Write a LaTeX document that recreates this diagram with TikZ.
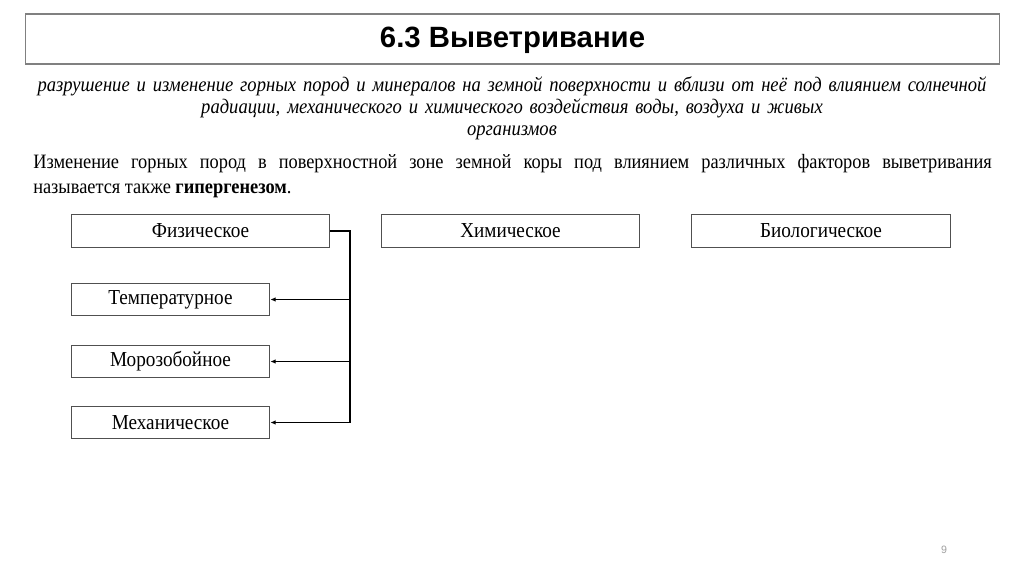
\documentclass[tikz,border=0pt]{standalone}
\usepackage{fontspec}
\setmainfont{Liberation Serif}[FakeStretch=0.9]
\newfontfamily\titlefont{Liberation Sans}
\usetikzlibrary{arrows.meta}
\definecolor{boxline}{HTML}{505050}
\definecolor{pagegray}{HTML}{A0A0A0}
\tikzset{
  catbox/.style={draw=boxline, line width=0.8pt, minimum width=194pt, minimum height=24.5pt, inner sep=0pt, font=\fontsize{16}{18}\selectfont},
  subbox/.style={draw=boxline, line width=0.8pt, minimum width=149pt, minimum height=24.5pt, inner sep=0pt, font=\fontsize{16}{18}\selectfont},
  conn/.style={line width=0.8pt, black},
  arr/.style={conn, -{Latex[length=4pt,width=3.5pt]}}
}
\begin{document}
\begin{tikzpicture}[x=0.75pt,y=-0.75pt]
\useasboundingbox[fill=white] (0,0) rectangle (1024,574);
% title
\node[draw=pagegray!80!black, line width=0.8pt, minimum width=731pt, minimum height=37.5pt, inner sep=0pt] (title) at (512.5,39) {};
\node[font=\titlefont\bfseries\fontsize{22}{24}\selectfont] (titletext) at (512.5,40) {6.3 Выветривание};
% definition
\node[font=\itshape\fontsize{15.5}{16.5}\selectfont, align=center, text width=760pt, inner sep=0pt] (def) at (512,108)
 {разрушение и изменение горных пород и минералов на земной поверхности и вблизи от неё под влиянием солнечной\\
 радиации, механического и химического воздействия воды, воздуха и живых\\
 организмов};
% paragraph
\node[font=\fontsize{15.3}{19}\selectfont, align=justify, text width=719pt, inner sep=0pt, anchor=north west] (para) at (33,154)
 {Изменение горных пород в поверхностной зоне земной коры под влиянием различных факторов выветривания\linebreak называется также \textbf{гипергенезом}.};
% category boxes
\node[catbox] (fiz) at (200.5,231) {Физическое};
\node[catbox] (chem) at (510.5,231) {Химическое};
\node[catbox] (bio) at (821,231) {Биологическое};
% sub boxes
\node[subbox] (temp) at (170.5,299.5) {Температурное};
\node[subbox] (moroz) at (170.5,361.5) {Морозобойное};
\node[subbox] (mech) at (170.5,422.5) {Механическое};
% connectors
\coordinate (bt) at (350,231);
\coordinate (bb) at (350,422.5);
\draw[conn] (fiz.east) -- (bt) -- (bb);
\draw[arr] (bt |- temp.east) -- (temp.east);
\draw[arr] (bt |- moroz.east) -- (moroz.east);
\draw[arr] (bb) -- (mech.east);
% page number
\node[font=\titlefont\fontsize{8}{9}\selectfont, text=pagegray] (pnum) at (944,550) {9};
\end{tikzpicture}
\end{document}
